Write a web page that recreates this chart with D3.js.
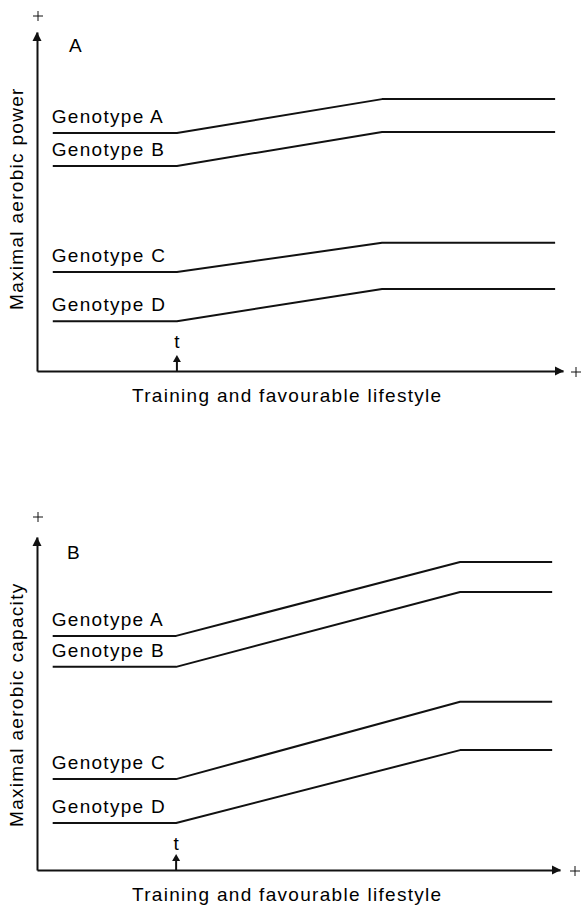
<!DOCTYPE html>
<html>
<head>
<meta charset="utf-8">
<script src="https://cdn.jsdelivr.net/npm/d3@7/dist/d3.min.js"></script>
<style>
  html, body { margin: 0; padding: 0; background: #fff; }
  svg { display: block; }
  text { font-family: "Liberation Sans", Arial, Helvetica, sans-serif; fill: #000; }
</style>
</head>
<body>
<script>
// ---------- data ----------
const genotypes = ["Genotype A", "Genotype B", "Genotype C", "Genotype D"];
// Panel A: maximal aerobic power (arbitrary units 0-100)
const powerBaseline = [70.2, 60.5, 29.2, 14.7];
const powerPlateau = [80.2, 70.5, 37.8, 24.2];
// Panel B: maximal aerobic capacity (arbitrary units 0-100)
const capacityBaseline = [70.3, 61.0, 27.3, 14.1];
const capacityPlateau = [92.5, 83.5, 50.5, 36.0];
// time axis (arbitrary units 0-100)
const timeStart = 3;
const trainingOnset = 26.6;         // "t"
const powerPlateauStart = 65.6;
const capacityPlateauStart = 80.9;
const timeEnd = 98.5;
const panelLetters = ["A", "B"];
const yTitles = ["Maximal aerobic power", "Maximal aerobic capacity"];
const xTitle = "Training and favourable lifestyle";

// ---------- drawing ----------
const W = 581, H = 908;
const ink = "#111";
const svg = d3.select("body").append("svg").attr("width", W).attr("height", H);

const panels = [
  { letter: panelLetters[0], yTitle: yTitles[0], base: powerBaseline, plat: powerPlateau,
    platStart: powerPlateauStart, xr: [37, 563], yr: [371, 32], plusY: 16, plusX: 576,
    letterPos: [69, 52], yTitleBottom: 310, xTitleY: 402, tBase: 348 },
  { letter: panelLetters[1], yTitle: yTitles[1], base: capacityBaseline, plat: capacityPlateau,
    platStart: capacityPlateauStart, xr: [37, 560], yr: [870, 537], plusY: 517, plusX: 575,
    letterPos: [67, 559], yTitleBottom: 827, xTitleY: 901, tBase: 850 }
];

const fontSize = 19, spacing = 1.3;

panels.forEach(p => {
  const x = d3.scaleLinear().domain([0, 100]).range(p.xr);
  const y = d3.scaleLinear().domain([0, 100]).range(p.yr);
  const g = svg.append("g");
  const x0 = x(0), y0 = y(0);

  // axes (no ticks)
  g.append("g").attr("transform", `translate(0,${y0})`)
    .call(d3.axisBottom(x).tickValues([]).tickSizeOuter(0));
  g.append("g").attr("transform", `translate(${x0},0)`)
    .call(d3.axisLeft(y).tickValues([]).tickSizeOuter(0));
  g.selectAll(".domain").attr("stroke", ink).attr("stroke-width", 2);

  // arrowheads
  const tipY = y(100), tipX = x(100);
  g.append("path").attr("d", `M${x0},${tipY} L${x0 - 4.5},${tipY + 9} L${x0 + 4.5},${tipY + 9} Z`).attr("fill", ink);
  g.append("path").attr("d", `M${tipX + 1},${y0} L${tipX - 8},${y0 - 4.5} L${tipX - 8},${y0 + 4.5} Z`).attr("fill", ink);

  // plus signs
  const plus = (cx, cy) => g.append("path")
    .attr("d", `M${cx - 5},${cy} H${cx + 5} M${cx},${cy - 5} V${cy + 5}`)
    .attr("stroke", ink).attr("stroke-width", 1).attr("fill", "none");
  plus(x0 + 1, p.plusY);
  plus(p.plusX, y0 + 1);

  // panel letter
  g.append("text").attr("x", p.letterPos[0]).attr("y", p.letterPos[1])
    .attr("font-size", fontSize).text(p.letter);

  // y title
  g.append("text")
    .attr("transform", `translate(23,${p.yTitleBottom}) rotate(-90)`)
    .attr("font-size", fontSize).attr("letter-spacing", spacing)
    .text(p.yTitle);

  // x title
  g.append("text").attr("x", 132).attr("y", p.xTitleY)
    .attr("font-size", fontSize).attr("letter-spacing", spacing)
    .text(xTitle);

  // training onset marker
  const tx = x(trainingOnset);
  g.append("line").attr("x1", tx).attr("x2", tx).attr("y1", y0).attr("y2", y0 - 10)
    .attr("stroke", ink).attr("stroke-width", 2);
  g.append("path").attr("d", `M${tx},${y0 - 16} L${tx - 4},${y0 - 9} L${tx + 4},${y0 - 9} Z`).attr("fill", ink);
  g.append("text").attr("x", tx).attr("y", p.tBase).attr("text-anchor", "middle")
    .attr("font-size", fontSize).text("t");

  // genotype lines
  const line = d3.line().x(d => x(d[0])).y(d => y(d[1]));
  genotypes.forEach((name, i) => {
    const pts = [[timeStart, p.base[i]], [trainingOnset, p.base[i]],
                 [p.platStart, p.plat[i]], [timeEnd, p.plat[i]]];
    g.append("path").attr("d", line(pts)).attr("fill", "none")
      .attr("stroke", ink).attr("stroke-width", 2).attr("stroke-linejoin", "round");
    g.append("text").attr("x", x(timeStart) - 1).attr("y", y(p.base[i]) - 10)
      .attr("font-size", fontSize).attr("letter-spacing", spacing).text(name);
  });
});
</script>
</body>
</html>
